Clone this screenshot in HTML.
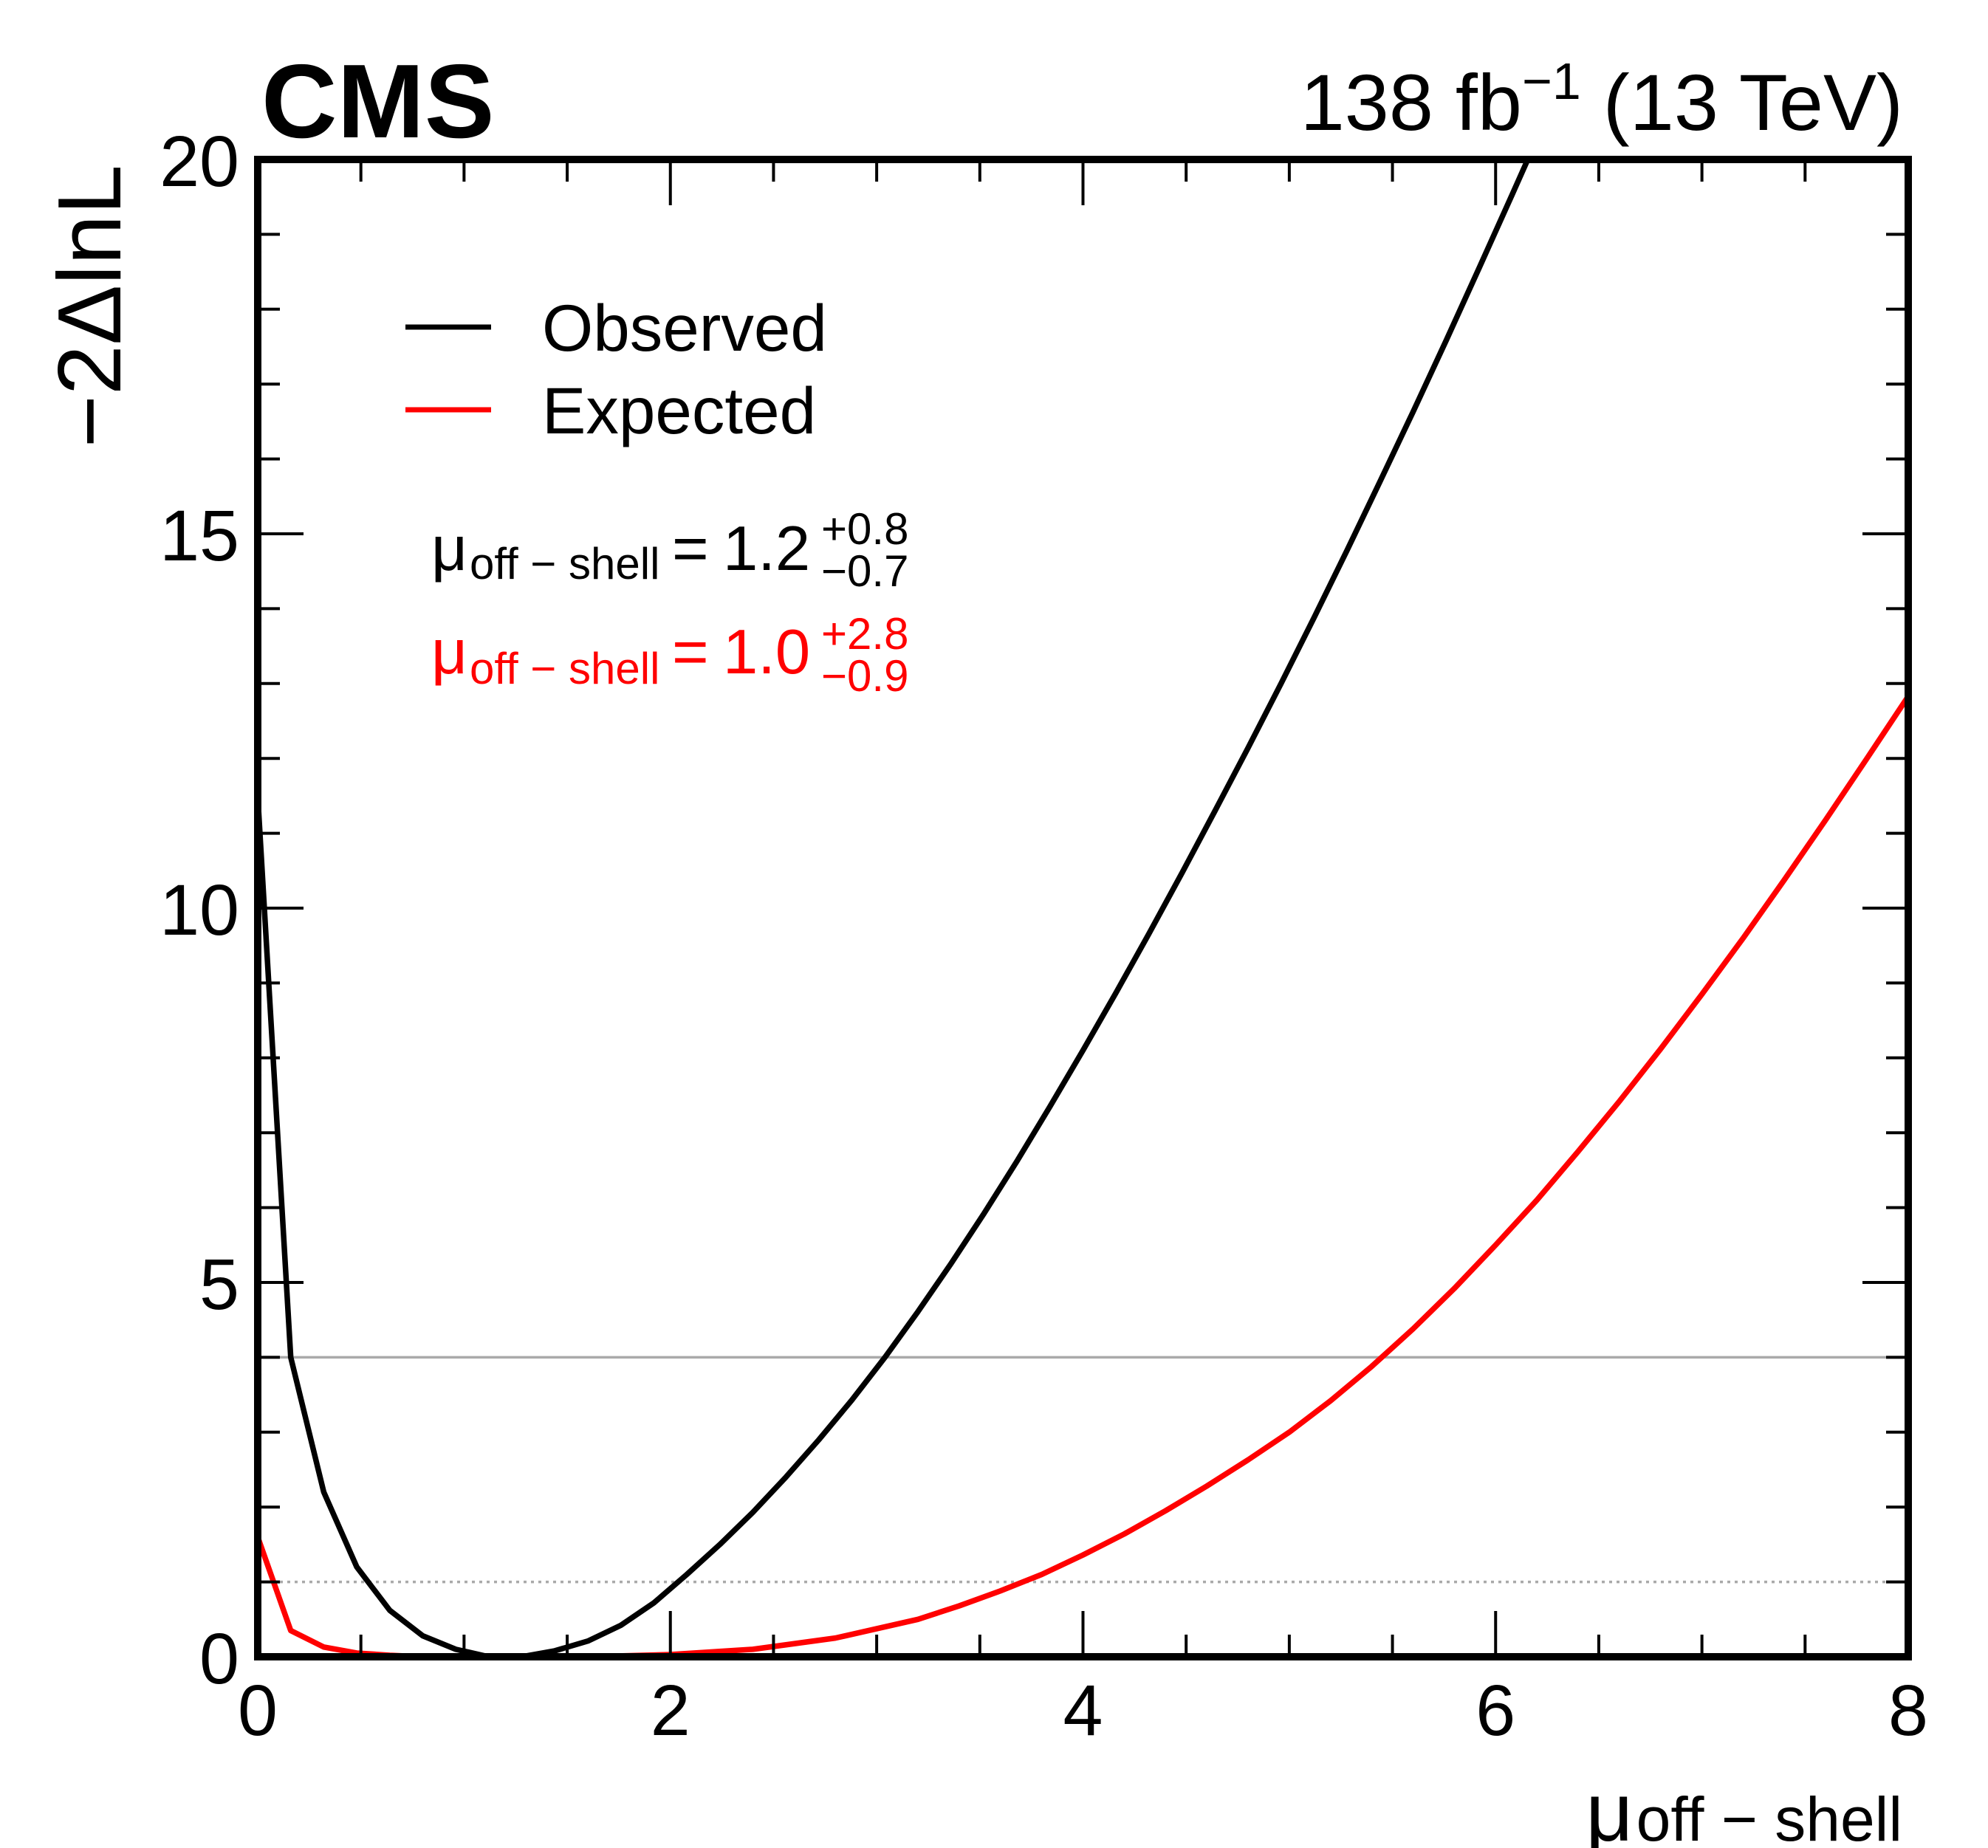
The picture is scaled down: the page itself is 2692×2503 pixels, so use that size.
<!DOCTYPE html>
<html><head><meta charset="utf-8"><style>
html,body{margin:0;padding:0;background:#fff;}
svg{display:block;font-family:"Liberation Sans",sans-serif;}
</style></head><body>
<svg id="chart" width="2692" height="2503" viewBox="0 0 2692 2503" xmlns="http://www.w3.org/2000/svg">
<defs><clipPath id="plotclip"><rect x="349" y="216" width="2235" height="2028"/></clipPath></defs>
<g id="grid-lines"></g>
<g id="curves" clip-path="url(#plotclip)"></g>
<g id="ticks"></g>
<rect x="349" y="216" width="2235" height="2028" fill="none" stroke="#000" stroke-width="10"/>
<text x="354" y="186" font-size="142" font-weight="bold">CMS</text>
<text x="2577" y="176" font-size="108" text-anchor="end">138 fb<tspan dy="-42" font-size="70">−1</tspan><tspan dy="42"> (13 TeV)</tspan></text>
<text transform="translate(163,223) rotate(-90)" font-size="122" text-anchor="end">−2ΔlnL</text>
<text x="2576" y="2493" font-size="84" text-anchor="end"><tspan font-size="112">μ</tspan><tspan dx="4">off − shell</tspan></text>
<line x1="549" y1="443" x2="665" y2="443" stroke="#000" stroke-width="7"/>
<text x="734" y="475" font-size="89">Observed</text>
<line x1="549" y1="555" x2="665" y2="555" stroke="#f00" stroke-width="7"/>
<text x="734" y="587" font-size="89">Expected</text>
<g fill="#000">
<text x="584" y="772" font-size="85">μ</text>
<text x="636" y="784" font-size="60">off − shell</text>
<text x="910" y="772" font-size="85">=</text>
<text x="979" y="772" font-size="85">1.2</text>
<text x="1112" y="737" font-size="60">+0.8</text>
<text x="1112" y="794" font-size="60">−0.7</text>
</g>
<g fill="#f00">
<text x="584" y="912" font-size="85">μ</text>
<text x="636" y="926" font-size="60">off − shell</text>
<text x="910" y="912" font-size="85">=</text>
<text x="979" y="912" font-size="85">1.0</text>
<text x="1112" y="879" font-size="60">+2.8</text>
<text x="1112" y="936" font-size="60">−0.9</text>
</g>
</svg>
<script>
const obsX = [0,0.16,0.32,0.48,0.64,0.8,0.96,1.12,1.28,1.44,1.6,1.76,1.92,2.08,2.24,2.4,2.56,2.72,2.88,3.04,3.2,3.36,3.52,3.68,3.84,4.0,4.16,4.32,4.48,4.64,4.8,4.96,5.12,5.28,5.44,5.6,5.76,5.92,6.08,6.24,6.4];
const obsY = [11.5,4.0,2.2,1.2,0.62,0.28,0.1,0.0,0.0,0.08,0.21,0.42,0.72,1.1,1.5,1.93,2.4,2.9,3.43,4.0,4.61,5.25,5.92,6.62,7.35,8.1,8.87,9.66,10.47,11.3,12.14,13.0,13.88,14.78,15.7,16.63,17.58,18.55,19.53,20.52,21.5];
const expX = [0,0.16,0.32,0.48,0.64,0.8,1.2,1.6,2.0,2.4,2.8,3.2,3.4,3.6,3.8,4.0,4.2,4.4,4.6,4.8,5.0,5.2,5.4,5.6,5.8,6.0,6.2,6.4,6.6,6.8,7.0,7.2,7.4,7.6,7.8,8.0];
const expY = [1.6,0.35,0.13,0.05,0.02,0.0,0.0,0.0,0.03,0.1,0.25,0.5,0.68,0.88,1.1,1.36,1.64,1.95,2.28,2.63,3.0,3.42,3.88,4.38,4.92,5.5,6.1,6.75,7.42,8.12,8.85,9.6,10.38,11.18,12.0,12.83];
const xTickLabels = [0,2,4,6,8];
const yTickLabels = [0,5,10,15,20];
const refLevels = [4,1];
const NS='http://www.w3.org/2000/svg';
const X0=349,X1=2584,Y0=2244,Y1=216;
const sx=v=>X0+(X1-X0)*v/8;
const sy=v=>Y0-(Y0-Y1)*v/20;
function mk(tag,attrs,parent){const e=document.createElementNS(NS,tag);for(const k in attrs)e.setAttribute(k,attrs[k]);parent.appendChild(e);return e;}
const grid=document.getElementById('grid-lines');
refLevels.forEach((lv,i)=>{
  const l=mk('line',{x1:X0,x2:X1,y1:sy(lv),y2:sy(lv),stroke:'#aaa','stroke-width':3.5,'stroke-dasharray':i===0?'none':'4 6'},grid);
  
  
});
const curves=document.getElementById('curves');
function poly(xs,ys,color,name){
  const p=mk('polyline',{points:xs.map((x,i)=>sx(x)+','+sy(ys[i])).join(' '),fill:'none',stroke:color,'stroke-width':7.5,'stroke-linejoin':'round'},curves);
  
  
}
poly(expX,expY,'#f00','expected-curve');
poly(obsX,obsY,'#000','observed-curve');
const tk=document.getElementById('ticks');
for(let v=0;v<=8.001;v+=0.5){
  const major=Math.abs(v-Math.round(v/2)*2)<1e-6;
  const L=major?62:30;
  const a=mk('line',{x1:sx(v),x2:sx(v),y1:Y0,y2:Y0-L,stroke:'#000','stroke-width':4},tk);
  
  
  const b=mk('line',{x1:sx(v),x2:sx(v),y1:Y1,y2:Y1+L,stroke:'#000','stroke-width':4},tk);
  
  
}
for(let v=0;v<=20;v+=1){
  const major=v%5===0;
  const L=major?62:30;
  const a=mk('line',{x1:X0,x2:X0+L,y1:sy(v),y2:sy(v),stroke:'#000','stroke-width':4},tk);
  
  
  const b=mk('line',{x1:X1,x2:X1-L,y1:sy(v),y2:sy(v),stroke:'#000','stroke-width':4},tk);
  
  
}
xTickLabels.forEach(v=>{
  const t=mk('text',{x:sx(v),y:2350,'font-size':97,'text-anchor':'middle'},tk);
  t.textContent=v;
  
  
});
yTickLabels.forEach(v=>{
  const t=mk('text',{x:324,y:sy(v)+36,'font-size':97,'text-anchor':'end'},tk);
  t.textContent=v;
  
  
});
</script>
</body></html>
